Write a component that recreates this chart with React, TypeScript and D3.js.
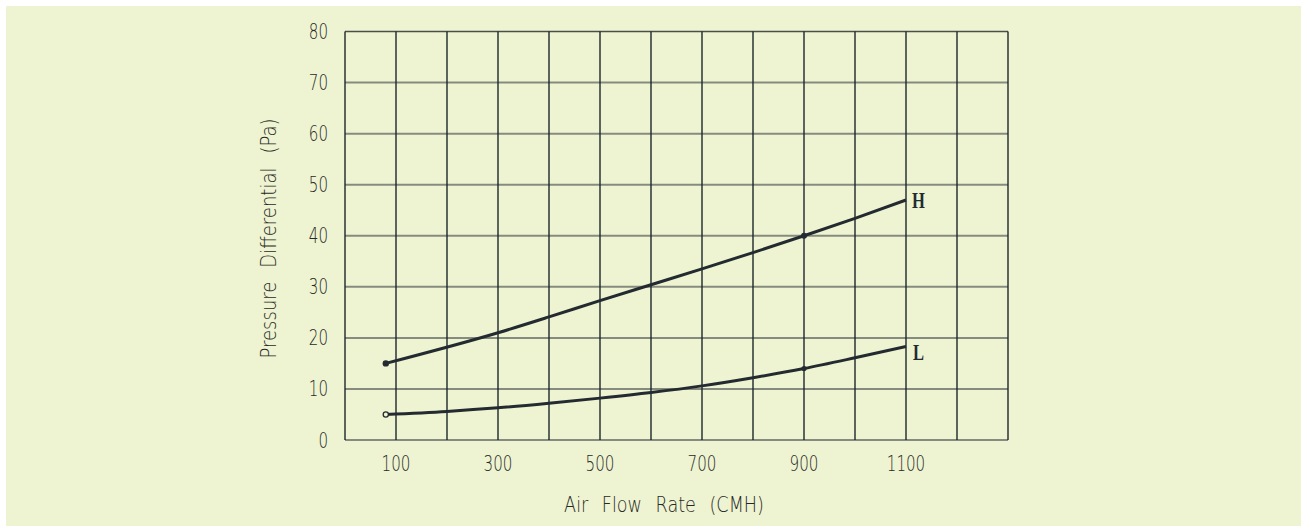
import React from "react";
import * as d3 from "d3";

const xTicks = [100, 300, 500, 700, 900, 1100];
const yTicks = [0, 10, 20, 30, 40, 50, 60, 70, 80];
const xGrid = [0, 100, 200, 300, 400, 500, 600, 700, 800, 900, 1000, 1100, 1200, 1300];

const seriesHX = [80, 300, 400, 500, 600, 700, 800, 900, 1000, 1100];
const seriesHY = [15, 21, 24.1, 27.3, 30.4, 33.5, 36.7, 40, 43.4, 47];
const seriesLX = [80, 200, 300, 400, 500, 600, 700, 800, 900, 1000, 1100];
const seriesLY = [5, 5.6, 6.3, 7.2, 8.2, 9.3, 10.6, 12.2, 14, 16.1, 18.3];

const W = 1301;
const H = 526;
const margin = { left: 345, right: 293, top: 31.5, bottom: 86 };

export default function App() {
  const x = d3.scaleLinear().domain([0, 1300]).range([margin.left, W - margin.right]);
  const y = d3.scaleLinear().domain([0, 80]).range([H - margin.bottom, margin.top]);
  const line = d3
    .line<[number, number]>()
    .x((d) => x(d[0]))
    .y((d) => y(d[1]))
    .curve(d3.curveMonotoneX);
  const hData: [number, number][] = seriesHX.map((v, i) => [v, seriesHY[i]]);
  const lData: [number, number][] = seriesLX.map((v, i) => [v, seriesLY[i]]);
  const ink = "#232b31";
  const font = "'DejaVu Sans', sans-serif";
  const txt = "#262a26";
  const hEnd = hData[hData.length - 1];
  const lEnd = lData[lData.length - 1];
  return (
    <svg
      width={W}
      height={H}
      style={{ position: "absolute", left: 0, top: 0, display: "block" }}
    >
      <rect x={0} y={0} width={W} height={H} fill="#ffffff" />
      <rect x={6} y={6} width={W - 6} height={H - 6} fill="#eef3d1" />
      {yTicks.map((t) => (
        <line
          key={"h" + t}
          x1={x(0)}
          x2={x(1300)}
          y1={y(t)}
          y2={y(t)}
          stroke={t === 80 ? "#4a5048" : "#868b7f"}
          strokeWidth={t === 80 ? 1.3 : 2}
        />
      ))}
      {xGrid.map((t) => (
        <line
          key={"v" + t}
          x1={x(t)}
          x2={x(t)}
          y1={y(0)}
          y2={y(80)}
          stroke="#1c262c"
          strokeWidth={1.4}
        />
      ))}
      {yTicks.map((t) => (
        <text
          key={"yl" + t}
          transform={`translate(${x(0) - 17},${y(t) + 7.5}) scale(0.72,1)`}
          textAnchor="end"
          fontFamily={font}
          fontWeight={200}
          fontSize={21}
          fill={txt}
        >
          {t}
        </text>
      ))}
      {xTicks.map((t) => (
        <text
          key={"xl" + t}
          transform={`translate(${x(t)},${y(0) + 30.5}) scale(0.72,1)`}
          textAnchor="middle"
          fontFamily={font}
          fontWeight={200}
          fontSize={21}
          fill={txt}
        >
          {t}
        </text>
      ))}
      <text
        transform={`translate(664,${y(0) + 72}) scale(0.8,1)`}
        textAnchor="middle"
        fontFamily={font}
        fontWeight={200}
        fontSize={22}
        fill={txt}
        style={{ wordSpacing: "10px" }}
      >
        Air Flow Rate (CMH)
      </text>
      <text
        transform={`translate(276,238.5) rotate(-90) scale(0.82,1)`}
        textAnchor="middle"
        fontFamily={font}
        fontWeight={200}
        fontSize={22}
        fill={txt}
        style={{ wordSpacing: "10px" }}
      >
        Pressure Differential (Pa)
      </text>
      <path d={line(hData) || ""} fill="none" stroke={ink} strokeWidth={3} />
      <path d={line(lData) || ""} fill="none" stroke={ink} strokeWidth={3} />
      <circle cx={x(hData[0][0])} cy={y(hData[0][1])} r={3.2} fill={ink} />
      <circle cx={x(900)} cy={y(40)} r={3} fill={ink} />
      <circle
        cx={x(lData[0][0])}
        cy={y(lData[0][1])}
        r={2.6}
        fill="#eef3d1"
        stroke={ink}
        strokeWidth={1.3}
      />
      <circle cx={x(900)} cy={y(14)} r={2.6} fill={ink} />
      <text
        transform={`translate(${x(hEnd[0]) + 6},${y(hEnd[1]) + 8}) scale(0.72,1)`}
        fontFamily="'Liberation Serif', serif"
        fontWeight="bold"
        fontSize={23}
        fill={ink}
      >
        H
      </text>
      <text
        transform={`translate(${x(lEnd[0]) + 7},${y(lEnd[1]) + 13.5}) scale(0.72,1)`}
        fontFamily="'Liberation Serif', serif"
        fontWeight="bold"
        fontSize={23}
        fill={ink}
      >
        L
      </text>
    </svg>
  );
}
